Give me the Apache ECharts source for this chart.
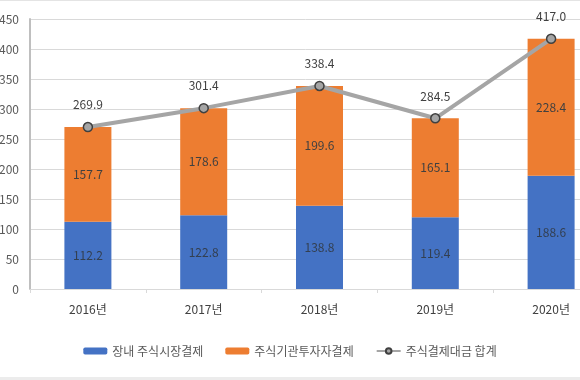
<!DOCTYPE html>
<html><head><meta charset="utf-8">
<script src="https://cdn.jsdelivr.net/npm/echarts@6/dist/echarts.min.js"></script>
<style>html,body{margin:0;padding:0;background:#fff;}#c{width:580px;height:380px;}</style>
</head><body><div id="c"></div>
<script>
const categories = ['2016년','2017년','2018년','2019년','2020년'];
const onExchange = [112.2, 122.8, 138.8, 119.4, 188.6];
const institutional = [157.7, 178.6, 199.6, 165.1, 228.4];
const total = [269.9, 301.4, 338.4, 284.5, 417.0];
const seriesNames = ['장내 주식시장결제','주식기관투자자결제','주식결제대금 합계'];

const font = '"Noto Sans CJK KR", "Noto Sans", sans-serif';
const chart = echarts.init(document.getElementById('c'));
chart.setOption({
  backgroundColor: '#fff',
  animation: false,
  textStyle: {fontFamily: font},
  graphic: [
    {type: 'rect', left: 0, top: 0, shape: {width: 580, height: 1}, style: {fill: '#e4e4e4'}, silent: true},
    {type: 'rect', left: 0, top: 377, shape: {width: 580, height: 3}, style: {fill: '#ececec'}, silent: true}
  ],
  grid: {left: 30, width: 579, top: 19, height: 270, outerBoundsMode: 'none', containLabel: false},
  legend: {
    bottom: 18, left: 'center',
    itemWidth: 24, itemHeight: 7, itemGap: 22,
    textStyle: {fontFamily: font, fontSize: 12, color: '#595959'},
    data: seriesNames
  },
  xAxis: {
    type: 'category', data: categories,
    axisLine: {lineStyle: {color: '#d9d9d9'}},
    axisTick: {show: true, length: 4, lineStyle: {color: '#d9d9d9'}},
    axisLabel: {color: '#404040', fontSize: 12, margin: 14, fontFamily: font}
  },
  yAxis: {
    type: 'value', min: 0, max: 450, interval: 50,
    axisLine: {show: true, lineStyle: {color: '#bfbfbf', width: 2}},
    axisLabel: {color: '#595959', fontSize: 12, margin: 11, fontFamily: font},
    splitLine: {lineStyle: {color: '#d9d9d9'}}
  },
  series: [
    {name: seriesNames[0], type: 'bar', stack: 's', data: onExchange, barWidth: 47,
     itemStyle: {color: '#4472c4'},
     label: {show: true, position: 'inside', color: '#333f50', fontSize: 12, fontFamily: font}},
    {name: seriesNames[1], type: 'bar', stack: 's', data: institutional, barWidth: 47,
     itemStyle: {color: '#ed7d31'},
     label: {show: true, position: 'inside', color: '#404040', fontSize: 12, fontFamily: font}},
    {name: seriesNames[2], type: 'line', data: total,
     symbol: 'circle', symbolSize: 9,
     lineStyle: {color: '#a5a5a5', width: 4},
     itemStyle: {color: '#a5a5a5', borderColor: '#404040', borderWidth: 1.5},
     label: {show: true, position: 'top', distance: 11, color: '#404040', fontSize: 12, fontFamily: font,
       formatter: p => p.value.toFixed(1)}}
  ]
});
</script></body></html>
